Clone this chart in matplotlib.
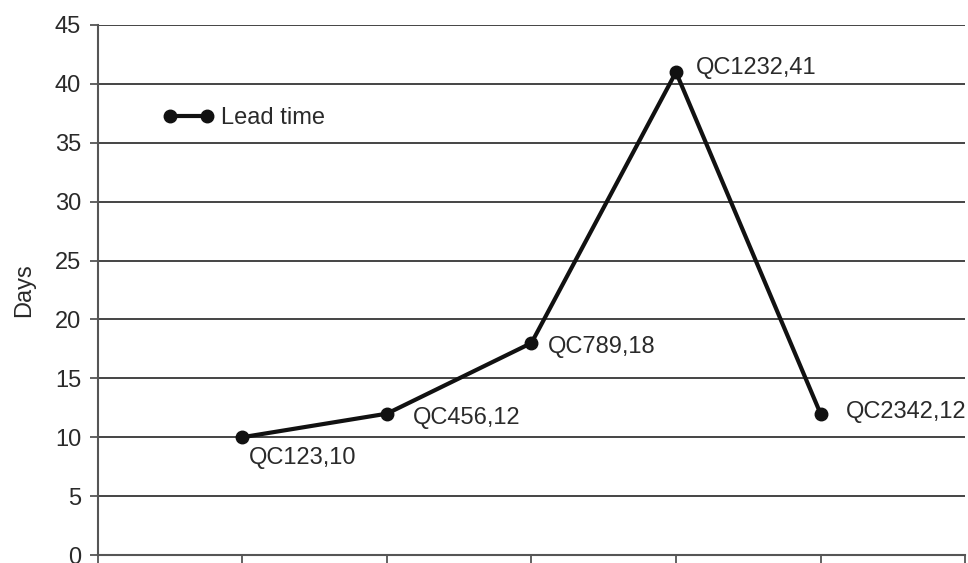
import matplotlib
matplotlib.use("Agg")
import matplotlib.pyplot as plt

plt.rcParams['font.family'] = ['Liberation Sans', 'DejaVu Sans']

# Lead time per quality check
categories = ["QC123", "QC456", "QC789", "QC1232", "QC2342"]
lead_time = [10, 12, 18, 41, 12]
y_ticks = [0, 5, 10, 15, 20, 25, 30, 35, 40, 45]

# label offsets (points) relative to each marker
label_offsets = [(5, -15), (19, -3), (12, -3), (14, 3), (18, 1)]

FS = 17
TEXT = "#2a2a2a"

fig = plt.figure(figsize=(9.68, 5.63), dpi=100)
ax = fig.add_axes([0.101, 0.0142, 0.896, 0.9414])

xs = list(range(1, len(categories) + 1))
ax.plot(xs, lead_time, color="#111111", lw=3.0, marker="o", ms=9,
        solid_capstyle="round", label="Lead time", zorder=3)

for x, cat, val, (dx, dy) in zip(xs, categories, lead_time, label_offsets):
    ax.annotate(f"{cat},{val}", (x, val), xytext=(dx, dy), textcoords="offset points",
                ha="left", va="center", fontsize=FS, color=TEXT, annotation_clip=False)

ax.set_xlim(0, 6)
ax.set_ylim(0, 45)
ax.set_xticks(range(0, 7))
ax.set_xticklabels([])
ax.set_yticks(y_ticks)
ax.set_yticklabels([str(t) for t in y_ticks], fontsize=FS, color=TEXT)
ax.tick_params(axis="both", direction="out", length=6, width=1.3, color="#555555")
ax.tick_params(axis="y", pad=6)

ax.grid(axis="y", color="#444444", lw=1.4)
ax.set_axisbelow(True)
for s in ["top", "right"]:
    ax.spines[s].set_visible(False)
for s in ["left", "bottom"]:
    ax.spines[s].set_color("#555555")
    ax.spines[s].set_linewidth(1.5)

ax.set_ylabel("Days", fontsize=FS, color=TEXT, labelpad=14)

ax.legend(loc="center left", bbox_to_anchor=(0.075, 0.8245), frameon=False,
          numpoints=2, handlelength=2.17, handletextpad=0.3, fontsize=FS,
          borderpad=0, borderaxespad=0, labelcolor=TEXT)

fig.savefig("out.png", dpi=100)
